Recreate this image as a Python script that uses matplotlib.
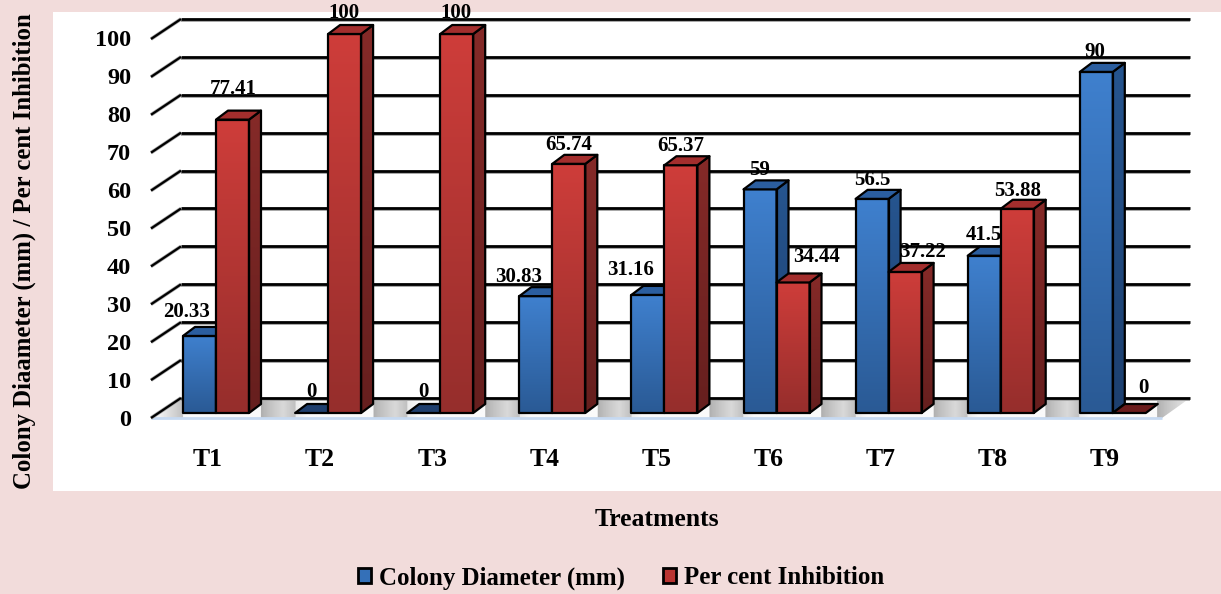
import numpy as np
import matplotlib
matplotlib.use("Agg")
import matplotlib.pyplot as plt
from matplotlib.patches import Polygon, Patch, Rectangle
from matplotlib.colors import LinearSegmentedColormap as LSC

treatments = ["T1", "T2", "T3", "T4", "T5", "T6", "T7", "T8", "T9"]
colony = [20.33, 0, 0, 30.83, 31.16, 59, 56.5, 41.5, 90]
inhibition = [77.41, 100, 100, 65.74, 65.37, 34.44, 37.22, 53.88, 0]
colony_labels = ["20.33", "0", "0", "30.83", "31.16", "59", "56.5", "41.5", "90"]
inhibition_labels = ["77.41", "100", "100", "65.74", "65.37", "34.44", "37.22", "53.88", "0"]
ticks = list(range(0, 101, 10))

W, H = 1221, 594
plt.rcParams["font.family"] = ["Liberation Serif", "DejaVu Serif"]
plt.rcParams["font.weight"] = "bold"
fig = plt.figure(figsize=(W / 100, H / 100), dpi=100, facecolor="#F2DCDB")
ax = fig.add_axes([0, 0, 1, 1])
ax.axis("off")

PXU = 112.1          # pixels per category
PYU = 3.79           # pixels per value unit
X0, Y0 = 216.0, 413.0
XLIM = (-X0 / PXU, (W - X0) / PXU)
YLIM = (-(H - Y0) / PYU, Y0 / PYU)
ax.set_xlim(*XLIM)
ax.set_ylim(*YLIM)
ppx = lambda p: p / PXU
ppy = lambda p: p / PYU

BW = ppx(33)
DX, DY = ppx(12), ppy(9)

def grad_fill(verts, top, bottom, z, edge=True):
    verts = np.array(verts, float)
    x0, x1 = verts[:, 0].min(), verts[:, 0].max()
    y0, y1 = verts[:, 1].min(), verts[:, 1].max()
    cmap = LSC.from_list("g", [top, bottom])
    poly = Polygon(verts, closed=True, fc="none", ec="#000000" if edge else "none",
                   lw=1.6, zorder=z + 0.01, joinstyle="round")
    ax.add_patch(poly)
    im = ax.imshow(np.linspace(0, 1, 64)[:, None], extent=(x0, x1, y0, y1),
                   origin="upper", cmap=cmap, aspect="auto", zorder=z, interpolation="bilinear")
    im.set_clip_path(Polygon(verts, closed=True, transform=ax.transData))

# white plot panel
ax.add_patch(Rectangle((ppx(53 - X0), ppy(Y0 - 491)), ppx(W - 53), ppy(479), fc="white", ec="none", zorder=0))

# floor
bx0, bx1 = ppx(181 - X0), ppx(1190 - X0)
fx0, fx1 = ppx(151 - X0), ppx(1162 - X0)
fy, by = ppy(Y0 - 418), ppy(Y0 - 398)
floor_v = [(fx0, fy), (bx0, by), (bx1, by), (fx1, fy)]
n = 1200
xs = np.linspace(fx0, bx1, n)
shade = np.full(n, 0.98)
for i in range(len(treatments)):
    right = i + BW + DX
    d = (xs - right) / 0.42
    m = (d >= 0) & (d < 1)
    shade[m] = np.minimum(shade[m], 0.68 + 0.31 * d[m] ** 0.8)
    left = i - BW
    m2 = (xs < left) & (xs > left - 0.25)
    shade[m2] = np.minimum(shade[m2], 0.75 + 0.23 * (left - xs[m2]) / 0.25)
floor_im = ax.imshow(shade[None, :], extent=(fx0, bx1, fy, by), cmap="gray", vmin=0, vmax=1,
                     aspect="auto", zorder=1, interpolation="bilinear")
floor_im.set_clip_path(Polygon(floor_v, closed=True, transform=ax.transData))
ax.plot([fx0, fx1], [fy, fy], color="#C6D9F1", lw=2, zorder=1.1, solid_capstyle="butt")

# gridlines and left wall ticks
wall = ppy(413 - 398)
front = ppy(Y0 - 418)
for t in ticks:
    y = t + wall
    ax.plot([bx0, bx1], [y - ppy(2), y - ppy(2)], color="#A6A6A6", lw=1.4, zorder=1.2, solid_capstyle="butt")
    ax.plot([bx0, bx1], [y, y], color="black", lw=2.0, zorder=1.3, solid_capstyle="butt")
    ax.plot([fx0, bx0], [t + front, y], color="#A6A6A6", lw=2.6, zorder=1.2, solid_capstyle="butt")
    ax.plot([fx0, bx0], [t + front, y], color="black", lw=1.6, zorder=1.3, solid_capstyle="butt")
    ax.text(ppx(131 - X0), t + front - ppy(2), str(t), ha="right", va="center", fontsize=17.5, zorder=5)

BLUE = dict(front=("#3F80CE", "#2A5A95"), side=("#26558F", "#1D4070"), top="#2B5E9F", flat="#1F3F6E")
RED = dict(front=("#CE3D3A", "#962E2C"), side=("#852A28", "#661F1E"), top="#A32E2D", flat="#6B1C1C")

def bar3d(x, v, pal, z):
    if v > 0:
        grad_fill([(x, 0), (x, v), (x + BW, v), (x + BW, 0)], pal["front"][0], pal["front"][1], z)
        grad_fill([(x + BW, 0), (x + BW, v), (x + BW + DX, v + DY), (x + BW + DX, DY)],
                  pal["side"][0], pal["side"][1], z)
    ax.add_patch(Polygon([(x, v), (x + DX, v + DY), (x + BW + DX, v + DY), (x + BW, v)],
                         closed=True, fc=pal["top"] if v > 0 else pal["flat"], ec="black", lw=1.6,
                         zorder=z + 0.02, joinstyle="round"))

for i in range(len(treatments)):
    bar3d(i - BW, colony[i], BLUE, 2 + i * 0.2)
    bar3d(float(i), inhibition[i], RED, 2.1 + i * 0.2)

# value labels: offsets (pixels) from each bar's front-centre top
c_off = [(-13, 24), (0, 21), (0, 21), (-17, 19), (-17, 25), (0, 19), (0, 19), (0, 21), (-1, 20)]
i_off = [(1, 31), (-1, 21), (-1, 21), (0, 19), (0, 19), (23, 25), (17, 20), (0, 18), (14, 25)]
for i in range(len(treatments)):
    xc = i - BW / 2 + ppx(c_off[i][0])
    ax.text(xc, colony[i] + ppy(c_off[i][1]), colony_labels[i], ha="center", va="center", fontsize=15, zorder=6)
    xr = i + BW / 2 + ppx(i_off[i][0])
    ax.text(xr, inhibition[i] + ppy(i_off[i][1]), inhibition_labels[i], ha="center", va="center", fontsize=15, zorder=6)

# category labels
for i, t in enumerate(treatments):
    ax.text(i - ppx(8), ppy(Y0 - 459), t, ha="center", va="center", fontsize=18.5, zorder=5)

# axis titles
fig.text(657 / W, 1 - 519 / H, "Treatments", ha="center", va="center", fontsize=18.5)
fig.text(24 / W, 1 - 251 / H, "Colony Diaameter (mm) / Per cent Inhibition", rotation=90,
         ha="center", va="center", fontsize=17.8)

# legend
handles = [Patch(fc="#3470B8", ec="black", lw=2.0, label="Colony Diameter (mm)"),
           Patch(fc="#B83432", ec="black", lw=2.0, label="Per cent Inhibition")]
leg = fig.legend(handles=handles, loc="center", bbox_to_anchor=(621 / W, 1 - 578 / H), ncols=2, frameon=False,
                 fontsize=17.9, handlelength=0.52, handleheight=0.52, handletextpad=0.3, columnspacing=1.55,
                 borderpad=0, borderaxespad=0)

ax.set_xlim(*XLIM)
ax.set_ylim(*YLIM)
fig.savefig("out.png", dpi=100, facecolor=fig.get_facecolor())
